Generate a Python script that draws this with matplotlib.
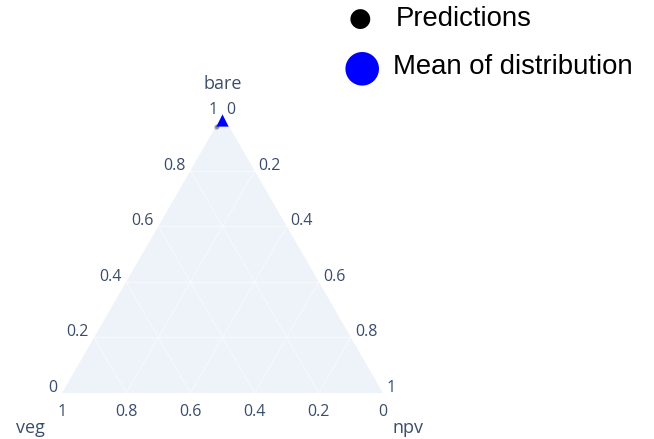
import numpy as np
import matplotlib.pyplot as plt

# ternary data: bare (top), veg (bottom left), npv (bottom right)
pred_bare = [0.957, 0.962]
pred_veg = [0.043, 0.036]
pred_npv = [0.000, 0.002]

mean_bare = [0.982]
mean_veg = [0.011]
mean_npv = [0.007]

ticks = [0.2, 0.4, 0.6, 0.8]
axis_titles = ["bare", "veg", "npv"]
legend_labels = ["Predictions", "Mean of distribution"]

H = np.sqrt(3) / 2
TXT = "#3b4d6b"
BG = "#eef3fa"


def to_xy(a, b, c):
    a, b, c = np.asarray(a, float), np.asarray(b, float), np.asarray(c, float)
    s = a + b + c
    a, c = a / s, c / s
    return c + a / 2, a * H


fig = plt.figure(figsize=(654 / 72, 439 / 72), dpi=72)
ax = fig.add_axes([62 / 654, 46 / 439, 321 / 654, 278 / 439])
ax.set_xlim(0, 1)
ax.set_ylim(0, H)
ax.axis("off")

# background triangle
tx, ty = to_xy([0, 1, 0], [1, 0, 0], [0, 0, 1])
ax.fill(tx, ty, color=BG, zorder=0, lw=0)

# faint white grid lines
for t in ticks:
    x, y = to_xy([t, t], [1 - t, 0], [0, 1 - t])
    ax.plot(x, y, color="white", lw=0.8, alpha=0.6, zorder=1)
    x, y = to_xy([1 - t, 0], [t, t], [0, 1 - t])
    ax.plot(x, y, color="white", lw=0.8, alpha=0.6, zorder=1)
    x, y = to_xy([1 - t, 0], [0, 1 - t], [t, t])
    ax.plot(x, y, color="white", lw=0.8, alpha=0.6, zorder=1)

tfont = dict(family="Open Sans", size=16, color=TXT)
all_ticks = [0] + ticks + [1]


def lab(t):
    return "0" if t == 0 else ("1" if t == 1 else f"{t:.1f}")


# bare ticks on left edge
for t in all_ticks:
    x, y = to_xy(t, 1 - t, 0)
    ax.annotate(lab(t), (x, y), xytext=(-5, 5), textcoords="offset points",
                ha="right", va="center", **tfont)

# npv ticks on right edge
for t in all_ticks:
    x, y = to_xy(1 - t, 0, t)
    ax.annotate(lab(t), (x, y), xytext=(4, 5), textcoords="offset points",
                ha="left", va="center", **tfont)

# veg ticks on bottom edge
for t in all_ticks:
    x, y = to_xy(0, t, 1 - t)
    ax.annotate(lab(t), (x, y), xytext=(0, -11), textcoords="offset points",
                ha="center", va="top", **tfont)

# axis titles
ttl = dict(family="Open Sans", size=18, color=TXT)
x, y = to_xy(1, 0, 0)
ax.annotate(axis_titles[0], (x, y), xytext=(0, 31), textcoords="offset points",
            ha="center", va="center", **ttl)
x, y = to_xy(0, 1, 0)
ax.annotate(axis_titles[1], (x, y), xytext=(-32, -35), textcoords="offset points",
            ha="center", va="center", **ttl)
x, y = to_xy(0, 0, 1)
ax.annotate(axis_titles[2], (x, y), xytext=(25, -35), textcoords="offset points",
            ha="center", va="center", **ttl)

# points
px, py = to_xy(pred_bare, pred_veg, pred_npv)
ax.scatter(px, py, s=22, color="black", alpha=0.25, lw=0, zorder=3, clip_on=False)
mx, my = to_xy(mean_bare, mean_veg, mean_npv)
ax.scatter(mx, my, s=150, marker="^", color="blue", lw=0, zorder=4, clip_on=False)

# legend
fig.text(360 / 654, 1 - 19 / 439, "\u25cf", fontsize=26, color="black",
         ha="center", va="center", family="DejaVu Sans")
fig.text(396 / 654, 1 - 19 / 439, legend_labels[0], fontsize=27.5,
         family="Liberation Sans", ha="left", va="center")
fig.text(362 / 654, 1 - 67 / 439, "\u25cf", fontsize=44, color="blue",
         ha="center", va="center", family="DejaVu Sans")
fig.text(393 / 654, 1 - 67 / 439, legend_labels[1], fontsize=27.5,
         family="Liberation Sans", ha="left", va="center")

fig.savefig("out.png", dpi=72, facecolor="white")
